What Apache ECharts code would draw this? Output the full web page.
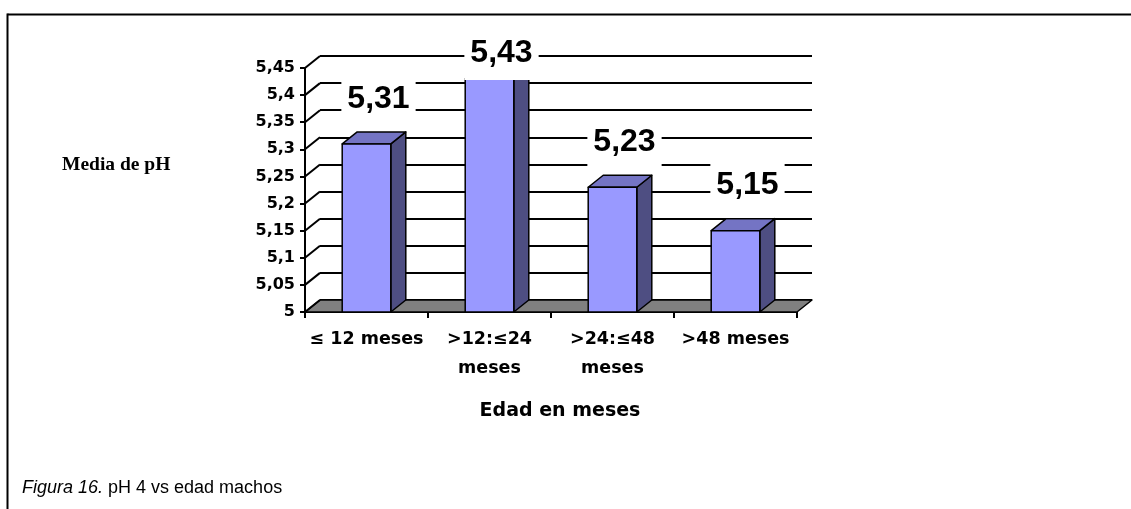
<!DOCTYPE html>
<html>
<head>
<meta charset="utf-8">
<script src="https://cdn.jsdelivr.net/npm/echarts@6/dist/echarts.min.js"></script>
<style>
  html, body { margin: 0; padding: 0; background: #fff; }
  #chart { width: 1131px; height: 509px; }
</style>
</head>
<body>
<div id="chart"></div>
<script>
// Mean pH by age group (males)
const categories = ['≤ 12 meses', '>12:≤24\nmeses', '>24:≤48\nmeses', '>48 meses'];
const phMeans = [5.31, 5.43, 5.23, 5.15];
const yTickValues = [5, 5.05, 5.1, 5.15, 5.2, 5.25, 5.3, 5.35, 5.4, 5.45];
const yTickLabels = ['5', '5,05', '5,1', '5,15', '5,2', '5,25', '5,3', '5,35', '5,4', '5,45'];
const yTitle = 'Media de pH';
const xTitle = 'Edad en meses';
const captionLead = 'Figura 16.';
const captionRest = ' pH 4 vs edad machos';

const Y_MIN = 5, Y_MAX = 5.45, Y_STEP = 0.05;
// depth offset of the pseudo-3D box (back plane relative to front plane)
const DX = 15, DY = -12;
const BAR_RATIO = 0.395;

const FRONT = { left: 305, top: 68, width: 492, height: 244 };
const BACK = { left: FRONT.left + DX, top: FRONT.top + DY, width: FRONT.width, height: FRONT.height };

const labelFont = '"Liberation Sans", Arial, sans-serif';
const axisFont = '"DejaVu Sans", sans-serif';

function fmtValue(v) {
  return v.toFixed(2).replace('.', ',');
}

function renderFloor(params, api) {
  const half = api.size([1, 0])[0] / 2;
  const a = api.coord([0, Y_MIN]);
  const b = api.coord([categories.length - 1, Y_MIN]);
  const xl = a[0] - half, xr = b[0] + half, y = a[1];
  return {
    type: 'polygon',
    shape: { points: [[xl, y], [xl + DX, y + DY], [xr + DX, y + DY], [xr, y]] },
    style: { fill: '#808080', stroke: '#000', lineWidth: 1.5, lineJoin: 'round' }
  };
}

function renderWallLine(params, api) {
  const v = api.value(1);
  const p = api.coord([0, v]);
  const xl = p[0] - api.size([1, 0])[0] / 2;
  return {
    type: 'line',
    shape: { x1: xl, y1: p[1], x2: xl + DX, y2: p[1] + DY },
    style: { stroke: '#000', lineWidth: 2 }
  };
}

function renderBar(params, api) {
  const idx = api.value(0);
  const v = api.value(1);
  const base = api.coord([idx, Y_MIN]);
  const top = api.coord([idx, v]);
  const w = api.size([1, 0])[0] * BAR_RATIO;
  const x0 = top[0] - w / 2, x1 = top[0] + w / 2;
  const yT = top[1], yB = base[1];
  const backTop = api.coord([idx, Y_MAX])[1] + DY;
  const edge = { stroke: '#000', lineWidth: 1.5, lineJoin: 'round' };
  return {
    type: 'group',
    children: [
      { type: 'polygon',
        shape: { points: [[x1, yT], [x1 + DX, yT + DY], [x1 + DX, yB + DY], [x1, yB]] },
        style: Object.assign({ fill: '#4E4E82' }, edge) },
      { type: 'polygon',
        shape: { points: [[x0, yT], [x0 + DX, yT + DY], [x1 + DX, yT + DY], [x1, yT]] },
        style: Object.assign({ fill: '#7474C4' }, edge) },
      { type: 'rect',
        shape: { x: x0, y: yT, width: w, height: yB - yT },
        style: Object.assign({ fill: '#9999FF' }, edge) },
      { type: 'text',
        x: top[0] + 12,
        y: Math.max(yT - 45, backTop - 3),
        style: {
          text: fmtValue(v),
          fontFamily: labelFont, fontWeight: 'bold', fontSize: 32, lineHeight: 40,
          fill: '#000', align: 'center', verticalAlign: 'middle',
          backgroundColor: '#fff', padding: [6, 6, 8, 6]
        } }
    ]
  };
}

const chart = echarts.init(document.getElementById('chart'), null, { renderer: 'canvas' });

chart.setOption({
  backgroundColor: '#fff',
  animation: false,
  grid: [
    Object.assign({ containLabel: false }, FRONT),
    Object.assign({ containLabel: false }, BACK)
  ],
  xAxis: [
    {
      gridIndex: 0, type: 'category', data: categories, boundaryGap: true,
      axisLine: { show: true, lineStyle: { color: '#000', width: 2 } },
      axisTick: { show: true, alignWithLabel: false, length: 6, lineStyle: { color: '#000', width: 2 } },
      axisLabel: {
        interval: 0, margin: 13, color: '#000',
        fontFamily: axisFont, fontWeight: 'bold', fontSize: 17.5, lineHeight: 29
      },
      splitLine: { show: false }
    },
    {
      gridIndex: 1, type: 'category', data: categories, boundaryGap: true,
      axisLine: { show: false }, axisTick: { show: false }, axisLabel: { show: false },
      splitLine: { show: false }
    }
  ],
  yAxis: [
    {
      gridIndex: 0, type: 'value', min: Y_MIN, max: Y_MAX, interval: Y_STEP,
      axisLine: { show: true, lineStyle: { color: '#000', width: 2 } },
      axisTick: { show: true, length: 5, lineStyle: { color: '#000', width: 2 } },
      axisLabel: {
        margin: 10, color: '#000',
        fontFamily: axisFont, fontWeight: 'bold', fontSize: 16,
        formatter: function (val, i) { return yTickLabels[i]; }
      },
      splitLine: { show: false }
    },
    {
      gridIndex: 1, type: 'value', min: Y_MIN, max: Y_MAX, interval: Y_STEP,
      axisLine: { show: false }, axisTick: { show: false }, axisLabel: { show: false },
      splitLine: { show: true, lineStyle: { color: '#000', width: 2 } }
    }
  ],
  series: [
    {
      type: 'custom', name: 'floor', xAxisIndex: 0, yAxisIndex: 0, z: 2,
      renderItem: renderFloor, data: [[0, Y_MIN]], silent: true
    },
    {
      type: 'custom', name: 'wall', xAxisIndex: 0, yAxisIndex: 0, z: 3,
      renderItem: renderWallLine, data: yTickValues.map(v => [0, v]), silent: true
    },
    {
      type: 'custom', name: yTitle, xAxisIndex: 0, yAxisIndex: 0, z: 5,
      renderItem: renderBar, data: phMeans.map((v, i) => [i, v])
    }
  ],
  graphic: [
    { type: 'line', shape: { x1: 7.5, y1: 14.5, x2: 1131, y2: 14.5 },
      style: { stroke: '#000', lineWidth: 2 } },
    { type: 'line', shape: { x1: 7.5, y1: 13.5, x2: 7.5, y2: 509 },
      style: { stroke: '#000', lineWidth: 2 } },
    { type: 'text', x: 62, y: 165,
      style: { text: yTitle, fontFamily: '"Liberation Serif", "Times New Roman", serif',
        fontWeight: 'bold', fontSize: 19.5, fill: '#000', verticalAlign: 'middle' } },
    { type: 'text', x: 560, y: 411,
      style: { text: xTitle, fontFamily: axisFont, fontWeight: 'bold', fontSize: 19,
        fill: '#000', align: 'center', verticalAlign: 'middle' } },
    { type: 'text', x: 22, y: 488,
      style: {
        text: '{i|' + captionLead + '}{n|' + captionRest + '}',
        verticalAlign: 'middle',
        rich: {
          i: { fontFamily: labelFont, fontStyle: 'italic', fontSize: 18, fill: '#000' },
          n: { fontFamily: labelFont, fontSize: 18, fill: '#000' }
        }
      } }
  ]
});
</script>
</body>
</html>
